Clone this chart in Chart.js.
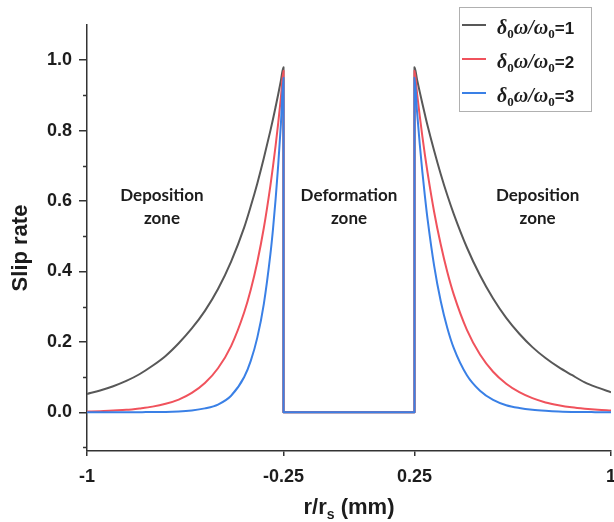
<!DOCTYPE html>
<html>
<head>
<meta charset="utf-8">
<script src="https://cdn.jsdelivr.net/npm/chart.js@4.4.1/dist/chart.umd.min.js"></script>
<style>
  html, body { margin: 0; padding: 0; background: #fff; }
</style>
</head>
<body>
<canvas id="slipChart" width="614" height="522"></canvas>
<script>
// r/rs positions where the curves were read (deposition zones)
const xLeft = [-1, -0.95, -0.9, -0.85, -0.8, -0.75, -0.7, -0.65, -0.6, -0.55, -0.5, -0.45, -0.4, -0.375, -0.35, -0.325, -0.3, -0.29, -0.28, -0.27, -0.26, -0.25];
const xRight = [0.25, 0.26, 0.27, 0.28, 0.29, 0.3, 0.325, 0.35, 0.375, 0.4, 0.45, 0.5, 0.55, 0.6, 0.65, 0.7, 0.75, 0.8, 0.85, 0.9, 0.95, 1];
// deformation zone (slip rate drops to zero)
const xGap = [-0.25, 0.25];
const slipGap = [0, 0];

// slip rate, delta0*omega/omega0 = 1
const slip1Left = [0.052, 0.062, 0.074, 0.089, 0.108, 0.132, 0.160, 0.196, 0.238, 0.288, 0.350, 0.428, 0.525, 0.585, 0.650, 0.722, 0.800, 0.833, 0.868, 0.904, 0.942, 0.98];
const slip1Right = [0.98, 0.944, 0.910, 0.877, 0.845, 0.814, 0.743, 0.677, 0.617, 0.563, 0.468, 0.389, 0.323, 0.268, 0.223, 0.185, 0.154, 0.128, 0.106, 0.085, 0.070, 0.057];
// = 2
const slip2Left = [0.002, 0.003, 0.005, 0.007, 0.011, 0.016, 0.024, 0.036, 0.055, 0.083, 0.125, 0.188, 0.284, 0.348, 0.427, 0.524, 0.644, 0.699, 0.758, 0.823, 0.894, 0.97];
const slip2Right = [0.97, 0.904, 0.842, 0.784, 0.730, 0.680, 0.569, 0.477, 0.399, 0.334, 0.234, 0.164, 0.115, 0.081, 0.057, 0.040, 0.028, 0.020, 0.014, 0.010, 0.007, 0.005];
// = 3
const slip3Left = [0, 0, 0, 0, 0, 0.001, 0.001, 0.002, 0.005, 0.011, 0.022, 0.047, 0.100, 0.146, 0.212, 0.308, 0.449, 0.521, 0.606, 0.704, 0.818, 0.95];
const slip3Right = [0.95, 0.851, 0.762, 0.683, 0.612, 0.548, 0.416, 0.316, 0.240, 0.182, 0.105, 0.061, 0.035, 0.020, 0.012, 0.007, 0.004, 0.002, 0.001, 0.001, 0, 0];

const ratioValues = [1, 2, 3];
const xTicks = [-1, -0.25, 0.25, 1];
const yTicks = [0, 0.2, 0.4, 0.6, 0.8, 1.0];
const zoneNames = [["Deposition", "zone"], ["Deformation", "zone"], ["Deposition", "zone"]];

const lineColors = ["rgb(88,88,88)", "rgb(240,82,92)", "rgb(58,128,230)"];
const axisColor = "#333";
const textColor = "#1c1c1c";

function buildSeries(left, right) {
  const pts = xLeft.map((x, i) => ({ x: x, y: left[i] }));
  xGap.forEach((x, i) => pts.push({ x: x, y: slipGap[i] }));
  xRight.forEach((x, i) => pts.push({ x: x, y: right[i] }));
  return pts;
}

// draws text pieces one after the other, subscripts shifted down
function drawPieces(ctx, pieces, x, y) {
  pieces.forEach(p => {
    ctx.font = p.font;
    ctx.fillText(p.text, x, y + (p.dy || 0));
    x += ctx.measureText(p.text).width;
  });
}
function piecesWidth(ctx, pieces) {
  let w = 0;
  pieces.forEach(p => { ctx.font = p.font; w += ctx.measureText(p.text).width; });
  return w;
}

const slipDecor = {
  id: "slipDecor",
  afterDraw(chart) {
    const ctx = chart.ctx;
    const xs = chart.scales.x, ys = chart.scales.y;
    ctx.save();

    // minor ticks on the y axis
    ctx.strokeStyle = axisColor;
    ctx.lineWidth = 1.5;
    [-0.1, 0.1, 0.3, 0.5, 0.7, 0.9].forEach(v => {
      const py = Math.round(ys.getPixelForValue(v)) + 0.5;
      ctx.beginPath();
      ctx.moveTo(xs.left - 4, py);
      ctx.lineTo(xs.left, py);
      ctx.stroke();
    });

    ctx.fillStyle = textColor;

    // y title
    ctx.save();
    ctx.translate(21, 248);
    ctx.rotate(-Math.PI / 2);
    ctx.font = "bold 22px 'Liberation Sans', Arial, sans-serif";
    ctx.textAlign = "center";
    ctx.textBaseline = "middle";
    ctx.fillText("Slip rate", 0, 0);
    ctx.restore();

    // x title with subscript
    ctx.textAlign = "left";
    ctx.textBaseline = "alphabetic";
    const big = "bold 22px 'Liberation Sans', Arial, sans-serif";
    const small = "bold 14px 'Liberation Sans', Arial, sans-serif";
    const xTitle = [
      { text: "r/r", font: big },
      { text: "s", font: small, dy: 5 },
      { text: " (mm)", font: big }
    ];
    const tw = piecesWidth(ctx, xTitle);
    drawPieces(ctx, xTitle, (xs.left + xs.right) / 2 - tw / 2, 514);

    // zone labels
    ctx.font = "bold 17px Lato, 'Open Sans', sans-serif";
    ctx.textAlign = "center";
    ctx.textBaseline = "middle";
    const zoneX = [-0.714, 0, 0.72];
    const cy = ys.getPixelForValue(0.582);
    zoneNames.forEach((lines, i) => {
      const cx = xs.getPixelForValue(zoneX[i]);
      ctx.fillText(lines[0], cx, cy - 11.5);
      ctx.fillText(lines[1], cx, cy + 11.5);
    });

    // legend box
    ctx.strokeStyle = "#b0b0b0";
    ctx.lineWidth = 1;
    ctx.strokeRect(459.5, 7.5, 132, 104);
    ctx.textAlign = "left";
    ctx.textBaseline = "alphabetic";
    const serif = "italic bold 20px 'Liberation Serif', 'DejaVu Serif', serif";
    const sub = "bold 13px 'Liberation Serif', 'DejaVu Serif', serif";
    const sans = "bold 17px 'Liberation Sans', Arial, sans-serif";
    const rowY = [25, 59, 93];
    chart.data.datasets.forEach((ds, i) => {
      ctx.strokeStyle = ds.borderColor;
      ctx.lineWidth = 2;
      ctx.beginPath();
      ctx.moveTo(462, rowY[i]);
      ctx.lineTo(486, rowY[i]);
      ctx.stroke();
      ctx.fillStyle = textColor;
      drawPieces(ctx, [
        { text: "δ", font: serif },
        { text: "0", font: sub, dy: 4 },
        { text: "ω/ω", font: serif },
        { text: "0", font: sub, dy: 4 },
        { text: "=" + ratioValues[i], font: sans }
      ], 497, rowY[i] + 9);
    });

    ctx.restore();
  }
};

const tickFont = { family: "'Liberation Sans', Arial, sans-serif", size: 18, weight: "bold" };

new Chart(document.getElementById("slipChart").getContext("2d"), {
  type: "line",
  data: {
    datasets: [
      { label: "δ0ω/ω0=1", data: buildSeries(slip1Left, slip1Right), borderColor: lineColors[0], order: 2 },
      { label: "δ0ω/ω0=2", data: buildSeries(slip2Left, slip2Right), borderColor: lineColors[1], order: 1 },
      { label: "δ0ω/ω0=3", data: buildSeries(slip3Left, slip3Right), borderColor: lineColors[2], order: 0 }
    ]
  },
  options: {
    responsive: false,
    animation: false,
    layout: { padding: { top: 25, right: 3, left: 0, bottom: 0 } },
    elements: {
      line: { borderWidth: 2, cubicInterpolationMode: "monotone", fill: false, borderJoinStyle: "round" },
      point: { radius: 0, hoverRadius: 0 }
    },
    plugins: { legend: { display: false }, tooltip: { enabled: false } },
    scales: {
      x: {
        type: "linear",
        min: -1,
        max: 1,
        afterBuildTicks: s => { s.ticks = xTicks.map(v => ({ value: v })); },
        afterFit: s => { s.height = 71; s.paddingLeft = 0; s.paddingRight = 0; },
        ticks: { font: tickFont, color: textColor, padding: 10, maxRotation: 0, autoSkip: false, callback: v => String(v) },
        grid: { drawOnChartArea: false, tickLength: 5, color: axisColor, lineWidth: 1.5 },
        border: { color: axisColor, width: 1.5 }
      },
      y: {
        min: -0.11,
        max: 1.1,
        afterBuildTicks: s => { s.ticks = yTicks.map(v => ({ value: v })); },
        afterFit: s => { s.width = 87; s.paddingTop = 0; s.paddingBottom = 0; },
        ticks: { font: tickFont, color: textColor, padding: 7, callback: v => v.toFixed(1) },
        grid: { drawOnChartArea: false, tickLength: 8, color: axisColor, lineWidth: 1.5 },
        border: { color: axisColor, width: 1.5 }
      }
    }
  },
  plugins: [slipDecor]
});
</script>
</body>
</html>
